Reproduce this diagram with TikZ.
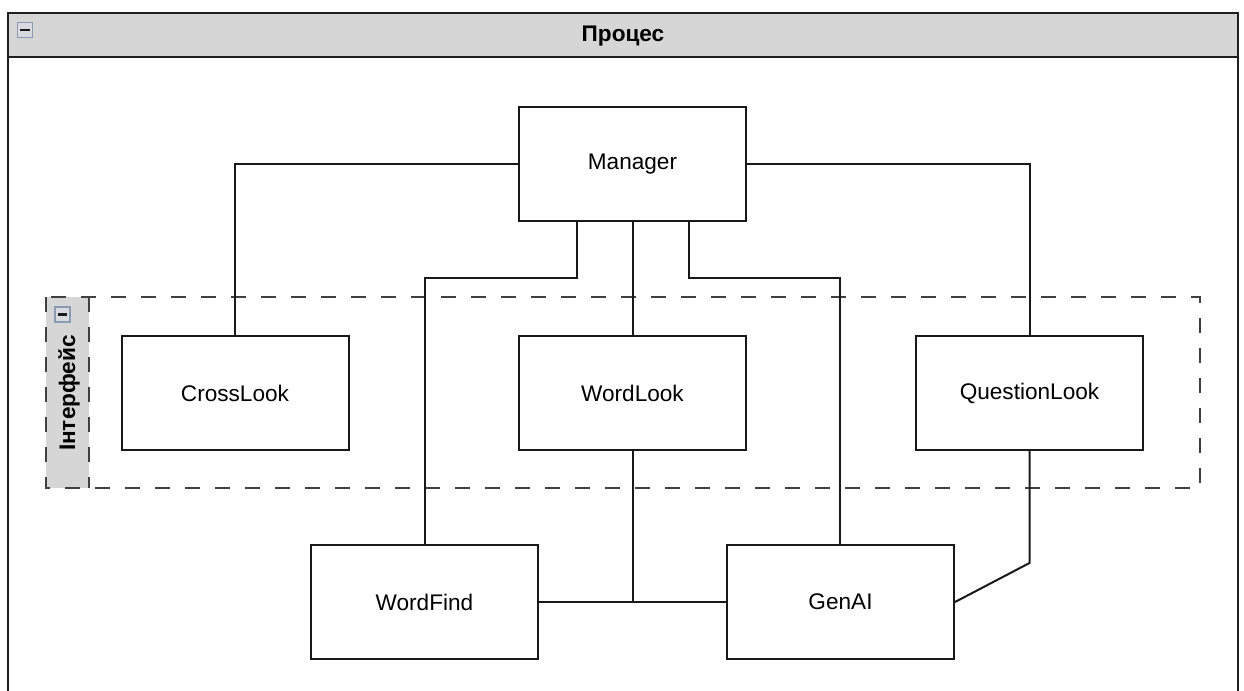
\documentclass[tikz,border=0pt]{standalone}
\usepackage{fontspec}
\setmainfont{Liberation Sans}
\definecolor{iconedge}{RGB}{140,155,180}
\definecolor{iconfill}{RGB}{215,218,225}
\begin{document}
\begin{tikzpicture}[x=0.5pt,y=-0.5pt,
  box/.style={draw=black!90,line width=1pt,fill=white,minimum width=113.5pt,minimum height=57pt,inner sep=0pt,font=\fontsize{11.3}{13}\selectfont},
  conn/.style={draw=black!90,line width=1pt},
  frame/.style={draw=black!88,line width=1.3pt},
  iconbox/.style={draw=iconedge,fill=iconfill,line width=0.9pt,minimum width=7.5pt,minimum height=7.5pt,inner sep=0pt},
  icondash/.style={line width=1.3pt,black!90},
  dashbox/.style={draw=black!75,line width=1pt,dash pattern=on 7.5pt off 7.5pt}]
\useasboundingbox (0,0) rectangle (1244,691);
% outer frame
\fill[black!16] (8,13) rectangle (1238,57);
\draw[frame] (8,700) -- (8,13) -- (1238,13) -- (1238,700);
\draw[frame] (8,57) -- (1238,57);
\node[font=\bfseries\fontsize{11.3}{13}\selectfont] (title) at (623,36) {Процес};
\node[iconbox] (icon1) at (25,30) {};
\draw[icondash] ([xshift=-2.6pt]icon1.center) -- ([xshift=2.6pt]icon1.center);
% interface group
\fill[black!16] (46,297) rectangle (89,488);
\draw[dashbox] (46,297) rectangle (1200,488);
\draw[dashbox] (89,297) -- (89,488);
\node[iconbox] (icon2) at (62.5,314.5) {};
\draw[icondash] ([xshift=-2.3pt]icon2.center) -- ([xshift=2.3pt]icon2.center);
\node[rotate=90,font=\bfseries\fontsize{11.3}{13}\selectfont] (iface) at (69,393) {Інтерфейс};
% boxes
\node[box] (mgr) at (632.5,164) {Manager};
\node[box] (cross) at (235,393) {CrossLook};
\node[box] (wlook) at (632.5,393) {WordLook};
\node[box] (qlook) at (1029.5,393) {QuestionLook};
\node[box] (wfind) at (424.5,602) {WordFind};
\node[box] (gen) at (840.5,602) {GenAI};
\coordinate (j) at (632.5,601);
\coordinate (qbend) at (1029.5,563);
% connectors
\draw[conn] (mgr.west) -| (cross.north);
\draw[conn] (mgr.east) -| (qlook.north);
\draw[conn] (mgr.south) -- (wlook.north);
\draw[conn] ([xshift=-28pt]mgr.south) |- (425,278) -- (wfind.north -| 425,0);
\draw[conn] ([xshift=28.25pt]mgr.south) |- (840,278) -- (gen.north -| 840,0);
\draw[conn] (wlook.south) -- (j);
\draw[conn] (wfind.east) -- (gen.west);
\draw[conn] (qlook.south) -- (qbend) -- (gen.east);
\end{tikzpicture}
\end{document}
